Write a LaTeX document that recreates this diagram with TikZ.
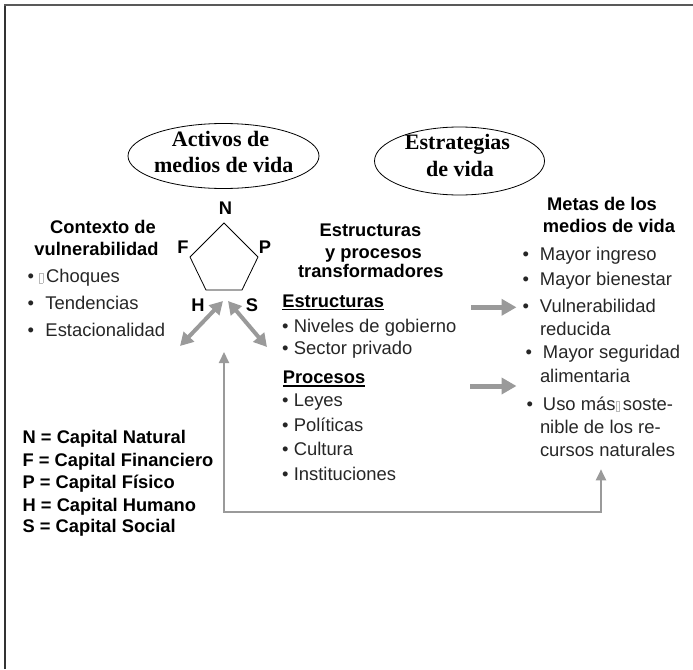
\documentclass[tikz,border=0pt]{standalone}
\usepackage{fontspec}
\setmainfont{Liberation Sans}
\newfontfamily\serifbold{Liberation Serif}
\usetikzlibrary{arrows.meta,shapes.geometric}
\definecolor{arrgray}{HTML}{9A9A9A}
\definecolor{txt}{HTML}{262626}
\newcommand\bulw[1]{\makebox[#1][l]{•}}
\newcommand\missbox{{\color{gray!55}\setlength{\fboxrule}{0.5pt}\setlength{\fboxsep}{0pt}\fbox{\rule{3.3pt}{0pt}\rule{0pt}{9.5pt}}}}
\newcommand\ulbox[1]{\setbox0\hbox{#1}\rlap{\vrule width\wd0 height -1.7pt depth 3.1pt}\box0}
\tikzset{
  sans/.style={font=\fontsize{18.4}{22}\selectfont, text=txt, inner sep=0pt, outer sep=0pt},
  sansb/.style={font=\fontsize{18.3}{22}\selectfont\bfseries, text=black, inner sep=0pt, outer sep=0pt},
  serifb/.style={font=\serifbold\bfseries\fontsize{22}{26}\selectfont, text=black, inner sep=0pt, outer sep=0pt},
  ell/.style={draw, ellipse, line width=0.8pt, inner sep=0pt},
  thickarr/.style={draw=arrgray, line width=5pt, -{Triangle[length=15pt,width=16pt]}},
  dblarr/.style={draw=arrgray, line width=4pt, {Triangle[length=13pt,width=14pt]}-{Triangle[length=13pt,width=14pt]}},
  fbarr/.style={draw=arrgray, line width=2pt, {Triangle[length=11pt,width=10pt]}-{Triangle[length=11pt,width=10pt]}},
}
\begin{document}
\begin{tikzpicture}[x=1pt,y=-1pt]
\useasboundingbox (0,0) rectangle (693,669);
% frame
\draw[line width=1.6pt, black!80] (4.8,669) -- (4.8,4.2);
\draw[line width=1.6pt, black!65] (4,5) -- (693,5);

% ellipses
\node[ell, minimum width=191pt, minimum height=65pt] (ellA) at (223.5,156) {};
\node[serifb, anchor=base] (ellA1) at (220.5,146) {Activos de};
\node[serifb, anchor=base] (ellA2) at (223.8,172.7) {medios de vida};
\node[ell, minimum width=170pt, minimum height=68pt] (ellB) at (459.5,161) {};
\node[serifb, anchor=base] (ellB1) at (457.5,149.3) {Estrategias};
\node[serifb, anchor=base] (ellB2) at (460,176.5) {de vida};

% pentagon
\coordinate (pN) at (224,223);
\coordinate (pP) at (258,257);
\coordinate (pS) at (242,290);
\coordinate (pH) at (206,290);
\coordinate (pF) at (190,257);
\draw[line width=0.8pt] (pN) -- (pP) -- (pS) -- (pH) -- (pF) -- cycle;
\node[sansb, anchor=base] (lN) at (225.5,214) {N};
\node[sansb, anchor=base] (lF) at (183,253) {F};
\node[sansb, anchor=base] (lP) at (265,253) {P};
\node[sansb, anchor=base] (lH) at (198,311.5) {H};
\node[sansb, anchor=base] (lS) at (252,311.5) {S};

% vulnerability context
\node[sansb, anchor=base] (ctx1) at (103,233) {Contexto de};
\node[sansb, anchor=base] (ctx2) at (96.5,255) {vulnerabilidad};
\node[sans, anchor=base west] (ctxA) at (27.5,282.5) {\bulw{11.3pt}\missbox\,Choques};
\node[sans, anchor=base west] (ctxB) at (27.5,309.5) {\bulw{18pt}Tendencias};
\node[sans, anchor=base west] (ctxC) at (27.5,336.5) {\bulw{18pt}Estacionalidad};

% structures and processes
\node[sansb, anchor=base] (sp1) at (370.5,236) {Estructuras};
\node[sansb, anchor=base] (sp2) at (373.5,258.3) {y procesos};
\node[sansb, anchor=base] (sp3) at (370.8,277.8) {transformadores};
\node[sansb, anchor=base west] (hStr) at (282.3,307) {\ulbox{Estructuras}};
\node[sans, anchor=base west] (s1) at (282,332.7) {\bulw{11.8pt}Niveles de gobierno};
\node[sans, anchor=base west] (s2) at (282,354.5) {\bulw{11.8pt}Sector privado};
\node[sansb, anchor=base west] (hPro) at (282.8,383.6) {\ulbox{Procesos}};
\node[sans, anchor=base west] (p1) at (282,406.3) {\bulw{11.8pt}Leyes};
\node[sans, anchor=base west] (p2) at (282,431.7) {\bulw{11.8pt}Políticas};
\node[sans, anchor=base west] (p3) at (282,455.5) {\bulw{11.8pt}Cultura};
\node[sans, anchor=base west] (p4) at (282,480.3) {\bulw{11.8pt}Instituciones};

% goals
\node[sansb, anchor=base] (g1) at (602,210.8) {Metas de los};
\node[sansb, anchor=base] (g2) at (609,232.8) {medios de vida};
\node[sans, anchor=base west] (gA) at (522.5,260) {\bulw{17.5pt}Mayor ingreso};
\node[sans, anchor=base west] (gB) at (522.5,285.7) {\bulw{17.5pt}Mayor bienestar};
\node[sans, anchor=base west] (gC) at (522.5,312.7) {\bulw{17.5pt}Vulnerabilidad};
\node[sans, anchor=base west] (gC2) at (540,335) {reducida};
\node[sans, anchor=base west] (gD) at (525.5,358.3) {\bulw{17.5pt}Mayor seguridad};
\node[sans, anchor=base west] (gD2) at (540,382.7) {alimentaria};
\node[sans, anchor=base west] (gE) at (526.5,410.7) {\bulw{16.5pt}Uso más\missbox\,soste-};
\node[sans, anchor=base west] (gE2) at (540,433.3) {nible de los re-};
\node[sans, anchor=base west] (gE3) at (540,456.7) {cursos naturales};

% legend
\node[sansb, anchor=base west] (L1) at (22.7,443) {N = Capital Natural};
\node[sansb, anchor=base west] (L2) at (22.7,466) {F = Capital Financiero};
\node[sansb, anchor=base west] (L3) at (22.7,488) {P = Capital Físico};
\node[sansb, anchor=base west] (L4) at (22.7,511) {H = Capital Humano};
\node[sansb, anchor=base west] (L5) at (22.7,532.7) {S = Capital Social};

% connectors
\coordinate (dLa) at (223,301);
\coordinate (dLb) at (180,346);
\coordinate (dRa) at (228,301);
\coordinate (dRb) at (267,347);
\draw[dblarr] (dLa) -- (dLb);
\draw[dblarr] (dRa) -- (dRb);

\coordinate (a1s) at (471,307.3);
\coordinate (a1e) at (516.5,307.3);
\coordinate (a2s) at (470,386);
\coordinate (a2e) at (516.5,386);
\draw[thickarr] (a1s) -- (a1e);
\draw[thickarr] (a2s) -- (a2e);

\coordinate (fbA) at (224,352);
\coordinate (fbC1) at (224,512);
\coordinate (fbC2) at (601,512);
\coordinate (fbB) at (601,469.3);
\draw[fbarr] (fbA) -- (fbC1) -- (fbC2) -- (fbB);
\end{tikzpicture}
\end{document}
